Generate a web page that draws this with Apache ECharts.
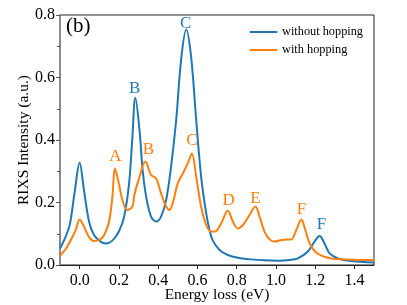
<!DOCTYPE html>
<html>
<head>
<meta charset="utf-8">
<script src="https://cdn.jsdelivr.net/npm/echarts@6/dist/echarts.min.js"></script>
<style>
html,body{margin:0;padding:0;background:#fff;}
#chart{width:407px;height:305px;}
</style>
</head>
<body>
<div id="chart"></div>
<script>
// Energy loss (eV) and intensity (a.u.)
var blueEnergy = [-0.10,-0.075,-0.05,-0.025,0.00,0.022,0.048,0.073,0.107,0.133,0.167,0.20,0.227,0.252,0.268,0.284,0.305,0.321,0.339,0.364,0.39,0.415,0.441,0.466,0.492,0.517,0.543,0.568,0.594,0.619,0.645,0.662,0.679,0.713,0.755,0.806,0.874,0.942,1.01,1.07,1.112,1.163,1.197,1.223,1.248,1.274,1.317,1.385,1.50];
var withoutHopping = [0.053,0.085,0.130,0.235,0.327,0.240,0.139,0.096,0.075,0.069,0.078,0.107,0.155,0.261,0.400,0.535,0.432,0.304,0.219,0.155,0.139,0.155,0.208,0.315,0.464,0.656,0.754,0.667,0.464,0.283,0.165,0.112,0.078,0.048,0.032,0.023,0.018,0.015,0.014,0.016,0.021,0.043,0.075,0.093,0.069,0.037,0.021,0.013,0.008];
var orangeEnergy = [-0.10,-0.063,-0.02,0.00,0.022,0.048,0.073,0.10,0.125,0.15,0.167,0.18,0.20,0.218,0.243,0.269,0.279,0.303,0.335,0.364,0.39,0.415,0.441,0.458,0.474,0.50,0.526,0.551,0.572,0.594,0.619,0.645,0.67,0.69,0.721,0.755,0.781,0.806,0.832,0.866,0.896,0.917,0.942,0.968,0.993,1.028,1.053,1.078,1.104,1.13,1.15,1.172,1.197,1.232,1.283,1.35,1.42,1.50];
var withHopping = [0.029,0.059,0.112,0.146,0.123,0.089,0.077,0.080,0.096,0.139,0.219,0.309,0.261,0.208,0.176,0.187,0.225,0.277,0.331,0.288,0.277,0.229,0.187,0.176,0.197,0.261,0.293,0.325,0.357,0.283,0.187,0.128,0.107,0.107,0.133,0.174,0.139,0.117,0.128,0.160,0.187,0.155,0.107,0.082,0.075,0.080,0.082,0.082,0.112,0.146,0.112,0.069,0.045,0.030,0.021,0.018,0.016,0.016];
var blueLabels = ['B','C','F'];
var blueLabelE = [0.28,0.54,1.233];
var blueLabelI = [0.566,0.774,0.128];
var orangeLabels = ['A','B','C','D','E','F'];
var orangeLabelE = [0.182,0.35,0.572,0.759,0.896,1.13];
var orangeLabelI = [0.347,0.368,0.398,0.206,0.213,0.176];
var seriesNames = ['without hopping','with hopping'];
var xTicks = [0.0,0.2,0.4,0.6,0.8,1.0,1.2,1.4];

var BLUE = '#1f77b4', ORANGE = '#ff7f0e';
var FONT = '"Liberation Serif", "DejaVu Serif", serif';

function pairs(xs, ys){ return xs.map(function(x,i){ return [x, ys[i]]; }); }
function marks(txt, xs, ys, color){
  return {
    symbol: 'circle', symbolSize: 0, silent: true, animation: false,
    label: {show: true, position: 'inside', color: color, fontFamily: FONT, fontSize: 17,
            formatter: function(p){ return p.name; }},
    data: txt.map(function(t,i){ return {name: t, coord: [xs[i], ys[i]]}; })
  };
}

var chart = echarts.init(document.getElementById('chart'), null, {renderer: 'canvas'});
chart.setOption({
  animation: false,
  backgroundColor: '#fff',
  grid: {left: 60, right: 33, top: 15, bottom: 40, containLabel: false, outerBoundsMode: 'none',
         show: true, borderColor: '#222', borderWidth: 1, backgroundColor: 'transparent'},
  legend: {
    right: 39, top: 21, orient: 'vertical', itemGap: 6, itemWidth: 27, itemHeight: 11,
    icon: 'path://M0,5 L27,5 L27,6 L0,6 Z',
    textStyle: {fontFamily: FONT, fontSize: 12.3, color: '#000', padding: [0,0,0,0]},
    data: seriesNames.map(function(n,i){ return {name: n, itemStyle: {color: i ? ORANGE : BLUE, borderColor: i ? ORANGE : BLUE, borderWidth: 1}}; })
  },
  graphic: [{type: 'text', left: 66, top: 16, style: {text: '(b)', font: '21px ' + FONT, fill: '#000'}}],
  xAxis: {
    type: 'value', min: -0.1, max: 1.5, interval: 0.2,
    name: 'Energy loss (eV)', nameLocation: 'middle', nameGap: 22, nameMoveOverlap: false,
    nameTextStyle: {fontFamily: FONT, fontSize: 15.5, color: '#000'},
    axisLine: {show: true, onZero: false, lineStyle: {color: '#222', width: 1}},
    axisTick: {show: true, length: 4, lineStyle: {color: '#222'},
      customValues: xTicks},
    minorTick: {show: true, splitNumber: 2, length: 3, lineStyle: {color: '#222'}},
    axisLabel: {fontFamily: FONT, fontSize: 16, color: '#000', margin: 8,
      customValues: xTicks,
      formatter: function(v){ return v.toFixed(1); }},
    splitLine: {show: false}
  },
  yAxis: {
    type: 'value', min: 0, max: 0.8, interval: 0.2,
    name: 'RIXS Intensity (a.u.)', nameLocation: 'middle', nameGap: 28, nameMoveOverlap: false,
    nameTextStyle: {fontFamily: FONT, fontSize: 15.5, color: '#000'},
    axisLine: {show: true, onZero: false, lineStyle: {color: '#8a8a8a', width: 2}},
    axisTick: {show: true, length: 4, lineStyle: {color: '#555'}},
    minorTick: {show: true, splitNumber: 2, length: 3, lineStyle: {color: '#555'}},
    axisLabel: {fontFamily: FONT, fontSize: 16, color: '#000', margin: 5,
      formatter: function(v){ return v.toFixed(1); }},
    splitLine: {show: false}
  },
  series: [
    {name: seriesNames[0], type: 'line', data: pairs(blueEnergy, withoutHopping), smooth: 0.35,
     showSymbol: false, lineStyle: {color: BLUE, width: 2}, itemStyle: {color: BLUE},
     markPoint: marks(blueLabels, blueLabelE, blueLabelI, BLUE)},
    {name: seriesNames[1], type: 'line', data: pairs(orangeEnergy, withHopping), smooth: 0.35,
     showSymbol: false, lineStyle: {color: ORANGE, width: 2}, itemStyle: {color: ORANGE},
     markPoint: marks(orangeLabels, orangeLabelE, orangeLabelI, ORANGE)}
  ]
});
</script>
</body>
</html>
